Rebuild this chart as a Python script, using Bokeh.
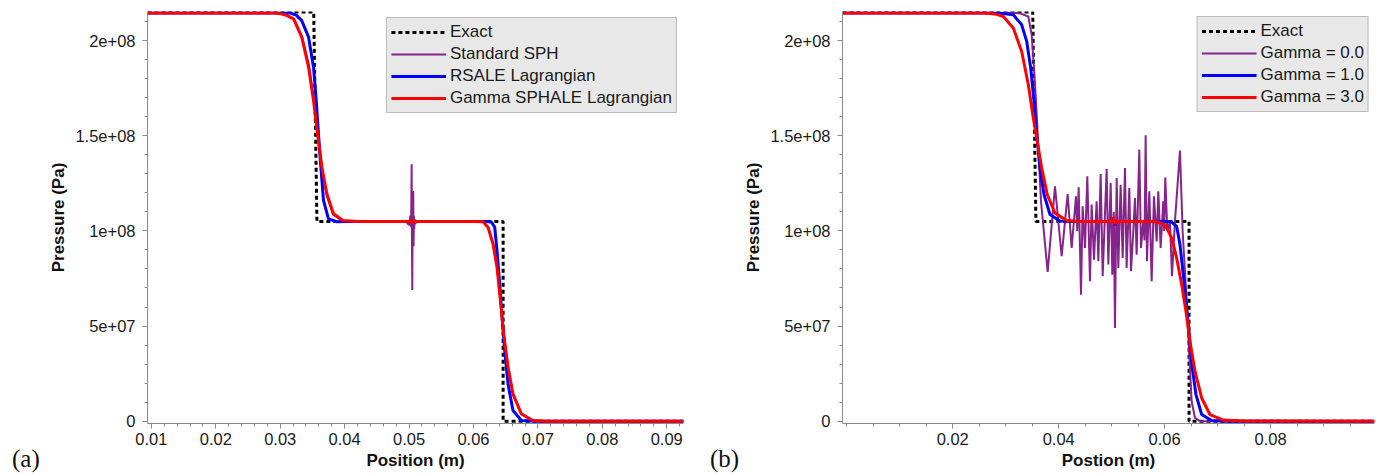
from bokeh.plotting import figure
from bokeh.layouts import row
from bokeh.models import FixedTicker, CustomJSTickFormatter, PrintfTickFormatter, Div
from bokeh.embed import file_html
from bokeh.resources import INLINE

# ---------------- data: panel (a) ----------------
a_exact_x = [0.0094, 0.0352, 0.0357, 0.0646, 0.0646, 0.0926]
a_exact_p = [2.15e8, 2.15e8, 1.05e8, 1.05e8, 0.0, 0.0]

a_sph_x = [0.0094, 0.0295, 0.0305, 0.0322, 0.0334, 0.0345, 0.0352, 0.0358, 0.0365, 0.0372,
           0.0382, 0.0397, 0.0420, 0.0495, 0.0500, 0.0502, 0.0503, 0.05035, 0.0504, 0.05045,
           0.0505, 0.05055, 0.0506, 0.05065, 0.0507, 0.05075, 0.0508, 0.0509, 0.0510, 0.0513,
           0.0602, 0.0616, 0.0623, 0.0631, 0.0637, 0.0642, 0.0647, 0.0654, 0.0661, 0.0674,
           0.0692, 0.0712, 0.0926]
a_sph_p = [214.5, 214.5, 214.0, 211.0, 202.0, 186.5, 169.0, 151.0, 133.0, 119.0,
           108.5, 105.3, 105.0, 105.0, 103.0, 108.0, 102.0, 112.0, 135.0, 95.0,
           69.0, 110.0, 99.0, 121.0, 92.0, 108.0, 101.0, 106.0, 104.0, 105.0,
           105.0, 104.6, 101.5, 92.5, 80.5, 63.0, 46.0, 28.0, 14.0, 3.7,
           0.3, 0.0, 0.0]

a_rsale_x = [0.0094, 0.0315, 0.0325, 0.03334, 0.0344, 0.03517, 0.03559, 0.03594, 0.03631, 0.03672,
             0.03749, 0.03879, 0.0400, 0.0620, 0.06279, 0.0633, 0.06365, 0.06407, 0.06443, 0.06485,
             0.06536, 0.06613, 0.06743, 0.0700, 0.0926]
a_rsale_p = [214.5, 214.5, 213.4, 210.5, 201.8, 186.0, 168.5, 151.0, 133.5, 116.0,
             106.3, 104.8, 105.0, 105.0, 104.6, 101.9, 89.7, 72.2, 54.6, 37.1,
             19.6, 5.6, 0.35, 0.0, 0.0]

a_gamma_x = [0.0094, 0.0290, 0.0300, 0.0310, 0.03208, 0.03334, 0.0344, 0.03517, 0.0358, 0.03647,
             0.03724, 0.03827, 0.03981, 0.0420, 0.0502, 0.0504, 0.0506, 0.0508, 0.0600, 0.06149,
             0.06226, 0.06303, 0.06365, 0.06418, 0.06469, 0.06536, 0.06613, 0.06743, 0.06922, 0.0713,
             0.0926]
a_gamma_p = [214.5, 214.5, 214.2, 213.3, 211.4, 201.8, 186.0, 168.5, 151.0, 133.5,
             119.5, 109.0, 105.4, 105.0, 105.0, 106.0, 104.2, 105.0, 105.0, 104.8,
             101.9, 93.2, 80.9, 63.4, 45.9, 28.4, 14.4, 3.9, 0.35, 0.0,
             0.0]

# ---------------- data: panel (b) ----------------
b_exact_x = [-0.0008, 0.0351, 0.0357, 0.0646, 0.0646, 0.0996]
b_exact_p = [2.15e8, 2.15e8, 1.05e8, 1.05e8, 0.0, 0.0]

b_g0_x = [-0.0008, 0.0320, 0.0327, 0.03427, 0.0349, 0.03534, 0.03572, 0.03604, 0.03634, 0.03666,
          0.03792, 0.03930, 0.04056, 0.04169, 0.04245, 0.04326, 0.04350, 0.04377, 0.04421, 0.04452,
          0.04496, 0.04540, 0.04591, 0.04622, 0.04666, 0.04716, 0.04748, 0.04792, 0.04830, 0.04905,
          0.04937, 0.04981, 0.05012, 0.05040, 0.05062, 0.05094, 0.05125, 0.05169, 0.05207, 0.05251,
          0.05282, 0.05333, 0.05364, 0.05408, 0.05440, 0.05471, 0.05521, 0.05553, 0.05597, 0.05620,
          0.05641, 0.05666, 0.05710, 0.05754, 0.05798, 0.05849, 0.05880, 0.05924, 0.05974, 0.05990,
          0.06012, 0.06050, 0.06100, 0.06138, 0.06194, 0.06289, 0.06339, 0.06415, 0.06445, 0.06477,
          0.06509, 0.06572, 0.06666, 0.0996]
b_g0_p = [214.5, 214.5, 214.3, 212.7, 203.1, 185.6, 168.1, 150.6, 133.0, 115.5,
          78.4, 123.4, 86.7, 119.4, 91.0, 118.2, 100.0, 122.9, 66.5, 112.9,
          91.0, 128.7, 73.5, 113.8, 84.9, 115.5, 84.0, 129.9, 76.2, 132.5,
          82.3, 125.2, 77.0, 110.0, 49.0, 127.8, 80.5, 124.3, 85.8, 133.1,
          80.5, 122.5, 78.8, 99.8, 117.3, 87.5, 142.7, 91.0, 105.0, 95.0,
          150.2, 84.0, 120.8, 73.5, 118.2, 94.5, 120.8, 91.0, 115.5, 100.0,
          128.0, 99.8, 105.0, 76.2, 105.0, 142.2, 99.8, 63.0, 45.5, 28.0,
          10.5, 1.7, 0.0, 0.0]

b_g1_x = [-0.0008, 0.0285, 0.0295, 0.03143, 0.03302, 0.03396, 0.03472, 0.03534, 0.03585, 0.03647,
          0.03723, 0.03836, 0.04025, 0.0430, 0.0500, 0.0503, 0.0506, 0.0509, 0.0605, 0.06132,
          0.06226, 0.06289, 0.06351, 0.06415, 0.06464, 0.06521, 0.06591, 0.06698, 0.06887, 0.0720,
          0.0996]
b_g1_p = [214.5, 214.5, 214.3, 213.6, 208.3, 199.6, 185.6, 168.1, 150.6, 133.0,
          119.1, 108.6, 105.2, 105.0, 105.0, 106.7, 103.0, 105.0, 105.0, 104.6,
          102.4, 92.8, 77.0, 59.5, 45.5, 28.0, 14.0, 3.5, 0.3, 0.0,
          0.0]

b_g3_x = [-0.0008, 0.0260, 0.0270, 0.0283, 0.02955, 0.03143, 0.03302, 0.03427, 0.03521, 0.03596,
          0.03679, 0.03785, 0.0393, 0.04151, 0.0440, 0.0500, 0.0503, 0.0506, 0.0509, 0.0575,
          0.05849, 0.06006, 0.06132, 0.06226, 0.06321, 0.06402, 0.06477, 0.06572, 0.06698, 0.06855,
          0.07106, 0.0750, 0.0996]
b_g3_p = [214.5, 214.5, 214.3, 213.8, 212.7, 206.6, 194.3, 176.8, 159.3, 147.0,
          133.0, 119.0, 109.4, 105.4, 105.0, 105.0, 107.0, 103.5, 105.0, 105.0,
          104.8, 103.3, 96.3, 85.8, 71.8, 57.8, 42.0, 26.3, 12.2, 3.5,
          0.6, 0.1, 0.0]

y_major = [0, 5e7, 1e8, 1.5e8, 2e8]
y_minor = [1e7, 2e7, 3e7, 4e7, 6e7, 7e7, 8e7, 9e7, 1.1e8, 1.2e8, 1.3e8, 1.4e8,
           1.6e8, 1.7e8, 1.8e8, 1.9e8, 2.1e8]
a_x_major = [0.01, 0.02, 0.03, 0.04, 0.05, 0.06, 0.07, 0.08, 0.09]
a_x_minor = [0.012, 0.014, 0.016, 0.018, 0.022, 0.024, 0.026, 0.028, 0.032, 0.034, 0.036, 0.038,
             0.042, 0.044, 0.046, 0.048, 0.052, 0.054, 0.056, 0.058, 0.062, 0.064, 0.066, 0.068,
             0.072, 0.074, 0.076, 0.078, 0.082, 0.084, 0.086, 0.088, 0.092]
b_x_major = [0.02, 0.04, 0.06, 0.08]
b_x_minor = [0.0, 0.005, 0.01, 0.015, 0.025, 0.03, 0.035, 0.045, 0.05, 0.055, 0.065, 0.07, 0.075,
             0.085, 0.09, 0.095]

PURPLE = "#85248a"
FONT = "Liberation Sans"
AXC = "#8a8a8a"
H = 474


def scale(vals):
    return [v * 1e6 for v in vals]


def make_panel(width, bl, br, xr, x_major, x_minor, xlabel, series, lmargin):
    p = figure(width=width, height=H, x_range=xr, y_range=(-1.22e6, 2.153e8),
               output_backend="svg", toolbar_location=None,
               min_border_left=bl, min_border_right=br, min_border_top=11, min_border_bottom=51)
    p.outline_line_color = None
    p.grid.visible = False
    for (xs, ys, color, lw, dash, lab) in series:
        p.line(xs, ys, line_color=color, line_width=lw, line_dash=dash, legend_label=lab)

    p.yaxis.ticker = FixedTicker(ticks=y_major, minor_ticks=y_minor)
    p.yaxis.formatter = CustomJSTickFormatter(code="""
        if (tick == 0) return "0";
        return tick.toExponential().replace(/e\\+(\\d)$/, "e+0$1");
    """)
    p.xaxis.ticker = FixedTicker(ticks=x_major, minor_ticks=x_minor)
    p.xaxis.formatter = PrintfTickFormatter(format="%.2f")
    p.xaxis.axis_label = xlabel
    p.yaxis.axis_label = "Pressure (Pa)"
    for ax in (p.xaxis[0], p.yaxis[0]):
        ax.axis_line_color = AXC
        ax.major_tick_line_color = AXC
        ax.minor_tick_line_color = AXC
        ax.major_tick_out = 5
        ax.major_tick_in = 0
        ax.minor_tick_out = 3
        ax.minor_tick_in = 0
        ax.major_label_text_font = FONT
        ax.major_label_text_font_size = "16.5px"
        ax.major_label_text_color = "#1a1a1a"
        ax.axis_label_text_font = FONT
        ax.axis_label_text_font_style = "bold"
        ax.axis_label_text_font_size = "17px"
        ax.axis_label_text_color = "#111111"
    p.yaxis.major_label_standoff = 7
    p.yaxis.axis_label_standoff = 4
    p.xaxis.major_label_standoff = 4
    p.xaxis.axis_label_standoff = 3

    lg = p.legend[0]
    lg.location = "top_right"
    lg.margin = lmargin
    lg.padding = 4
    lg.spacing = 2
    lg.label_height = 20
    lg.glyph_height = 20
    lg.glyph_width = 55
    lg.label_standoff = 4
    lg.label_text_font = FONT
    lg.label_text_font_size = "17px"
    lg.label_text_color = "#1a1a1a"
    lg.background_fill_color = "#e8e8e8"
    lg.background_fill_alpha = 1.0
    lg.border_line_color = "#8f8f8f"
    lg.border_line_width = 1
    return p


pa = make_panel(690, 147, 7, (0.0094, 0.0926), a_x_major, a_x_minor, "Position (m)", [
    (a_exact_x, a_exact_p, "black", 3, "4 3", "Exact"),
    (a_sph_x, scale(a_sph_p), PURPLE, 2, "solid", "Standard SPH"),
    (a_rsale_x, scale(a_rsale_p), "#0000ff", 3, "solid", "RSALE Lagrangian"),
    (a_gamma_x, scale(a_gamma_p), "#ff0000", 3, "solid", "Gamma SPHALE Lagrangian"),
], 6)

pb = make_panel(685, 152, 1, (-0.0008, 0.0996), b_x_major, b_x_minor, "Postion (m)", [
    (b_exact_x, b_exact_p, "black", 3, "4 3", "Exact"),
    (b_g0_x, scale(b_g0_p), PURPLE, 2, "solid", "Gamma = 0.0"),
    (b_g1_x, scale(b_g1_p), "#0000ff", 3, "solid", "Gamma = 1.0"),
    (b_g3_x, scale(b_g3_p), "#ff0000", 3, "solid", "Gamma = 3.0"),
], 5)


def tag(text, left):
    return Div(text=text, styles={"position": "absolute", "left": left, "top": "440px",
                                  "font-family": "Liberation Serif", "font-size": "25px",
                                  "color": "#111111", "line-height": "28px"})


layout = row(pa, pb, tag("(a)", "7px"), tag("(b)", "705px"))
open("out.html", "w").write(file_html(layout, INLINE))
